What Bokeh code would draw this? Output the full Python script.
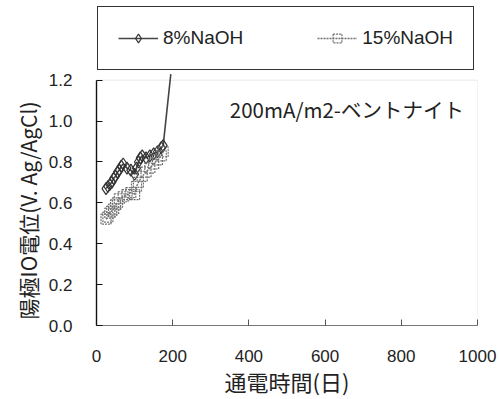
from bokeh.plotting import figure
from bokeh.models import Range1d, Legend, LegendItem, Label, FixedTicker, NumeralTickFormatter, BoxAnnotation, Title
from bokeh.embed import file_html
from bokeh.resources import INLINE

# data
x_8 = [25, 30, 35, 40, 45, 50, 55, 60, 65, 70, 80, 90, 100, 105, 110, 115, 120, 130, 140, 150, 160, 170, 175, 195]
y_8 = [0.67, 0.68, 0.69, 0.70, 0.72, 0.73, 0.75, 0.76, 0.78, 0.79, 0.77, 0.76, 0.74, 0.77, 0.80, 0.82, 0.83, 0.82, 0.83, 0.84, 0.85, 0.87, 0.88, 1.23]
x_15 = [25, 30, 35, 40, 45, 50, 55, 60, 70, 80, 90, 100, 105, 110, 120, 130, 140, 150, 160, 170, 175]
y_15 = [0.52, 0.53, 0.55, 0.56, 0.57, 0.59, 0.60, 0.62, 0.63, 0.64, 0.65, 0.64, 0.68, 0.70, 0.73, 0.75, 0.77, 0.79, 0.81, 0.83, 0.85]
x_ticks = [0, 200, 400, 600, 800, 1000]
y_ticks = [0.0, 0.2, 0.4, 0.6, 0.8, 1.0, 1.2]
series_names = ["8%NaOH", "15%NaOH"]
note_text = "200mA/m2-ベントナイト"
x_title = "通電時間(日)"
y_title = "陽極IO電位(V. Ag/AgCl)"

x_lo, x_hi = x_ticks[0], x_ticks[-1]
y_lo, y_hi = y_ticks[0], y_ticks[-1]
y_room = 1.59   # extra room above 1.2 holds the legend

p = figure(width=499, height=399, output_backend="svg", toolbar_location=None,
           x_range=Range1d(x_lo, x_hi), y_range=Range1d(y_lo, y_room),
           min_border_left=96, min_border_right=22, min_border_top=0, min_border_bottom=72)
p.background_fill_color = "white"
p.border_fill_color = "white"
p.xgrid.visible = False
p.ygrid.visible = False
p.outline_line_color = None

p.xaxis.ticker = FixedTicker(ticks=x_ticks)
p.yaxis.ticker = FixedTicker(ticks=y_ticks)
p.yaxis.formatter = NumeralTickFormatter(format="0.0")
p.xaxis.formatter = NumeralTickFormatter(format="0")
p.yaxis.bounds = (y_lo, y_hi)

for ax in (p.xaxis[0], p.yaxis[0]):
    ax.major_tick_in = 6
    ax.major_tick_out = 0
    ax.minor_tick_in = 0
    ax.minor_tick_out = 0
    ax.major_label_text_font = "Liberation Sans"
    ax.major_label_text_font_size = "17px"
    ax.major_label_text_color = "#222222"
    ax.axis_label_text_font = "Noto Sans CJK JP"
    ax.axis_label_text_font_size = "22px"
    ax.axis_label_text_font_style = "normal"
    ax.axis_label_text_color = "#222222"

# plot-area border: dotted top/right (drawn first, axes lie over it)
p.add_layout(BoxAnnotation(left=x_lo, right=x_hi, bottom=y_lo, top=y_hi,
                           fill_alpha=0, line_color="#666666", line_width=1, line_dash="1 1",
                           level="underlay"))

p.yaxis.axis_line_color = "#111111"
p.yaxis.axis_line_width = 1.4
p.yaxis.major_tick_line_color = "#111111"
p.yaxis.major_label_standoff = 24

# y title placed along the 0-1.2 part of the axis
p.add_layout(Title(text=y_title, align="left", offset=6, standoff=6,
                   text_font="Noto Sans CJK JP", text_font_size="21px",
                   text_font_style="normal", text_color="#222222"), "left")

p.xaxis.axis_line_color = "#777777"
p.xaxis.axis_line_width = 1
p.xaxis.major_tick_line_color = "#555555"
p.xaxis.major_label_standoff = 24
p.xaxis.axis_label = x_title
p.xaxis.axis_label_standoff = 0

# series
s8_line = dict(line_color="#444444", line_width=1.6)
s8_mark = dict(marker="diamond", size=12, line_color="#333333", fill_alpha=0, line_width=1.2)
s15_line = dict(line_color="#707070", line_width=1.4, line_dash="2 1")
s15_mark = dict(marker="square", size=10, line_color="#707070", fill_alpha=0, line_width=1.2, line_dash="2 1")

l8 = p.line(x_8, y_8, **s8_line)
m8 = p.scatter(x_8[:-1], y_8[:-1], **s8_mark)
l15 = p.line(x_15, y_15, **s15_line)
m15 = p.scatter(x_15, y_15, **s15_mark)

legend = Legend(items=[LegendItem(label=series_names[0], renderers=[l8, m8]),
                       LegendItem(label=series_names[1], renderers=[l15, m15])],
                orientation="horizontal", location=(1, 255),
                padding=20, margin=0, spacing=74, glyph_width=40, glyph_height=22,
                label_height=22, label_standoff=5, label_text_font="Liberation Sans",
                label_text_font_size="19px", label_text_color="#222222",
                border_line_color="#333333", border_line_width=1.2, border_line_alpha=1,
                background_fill_color="white", background_fill_alpha=1)
p.add_layout(legend, "center")

p.add_layout(Label(x=350, y=1.06, text=note_text, text_baseline="middle",
                   text_font="Noto Sans CJK JP", text_font_size="20.5px",
                   text_color="#222222"))

open("out.html", "w").write(file_html(p, INLINE))
